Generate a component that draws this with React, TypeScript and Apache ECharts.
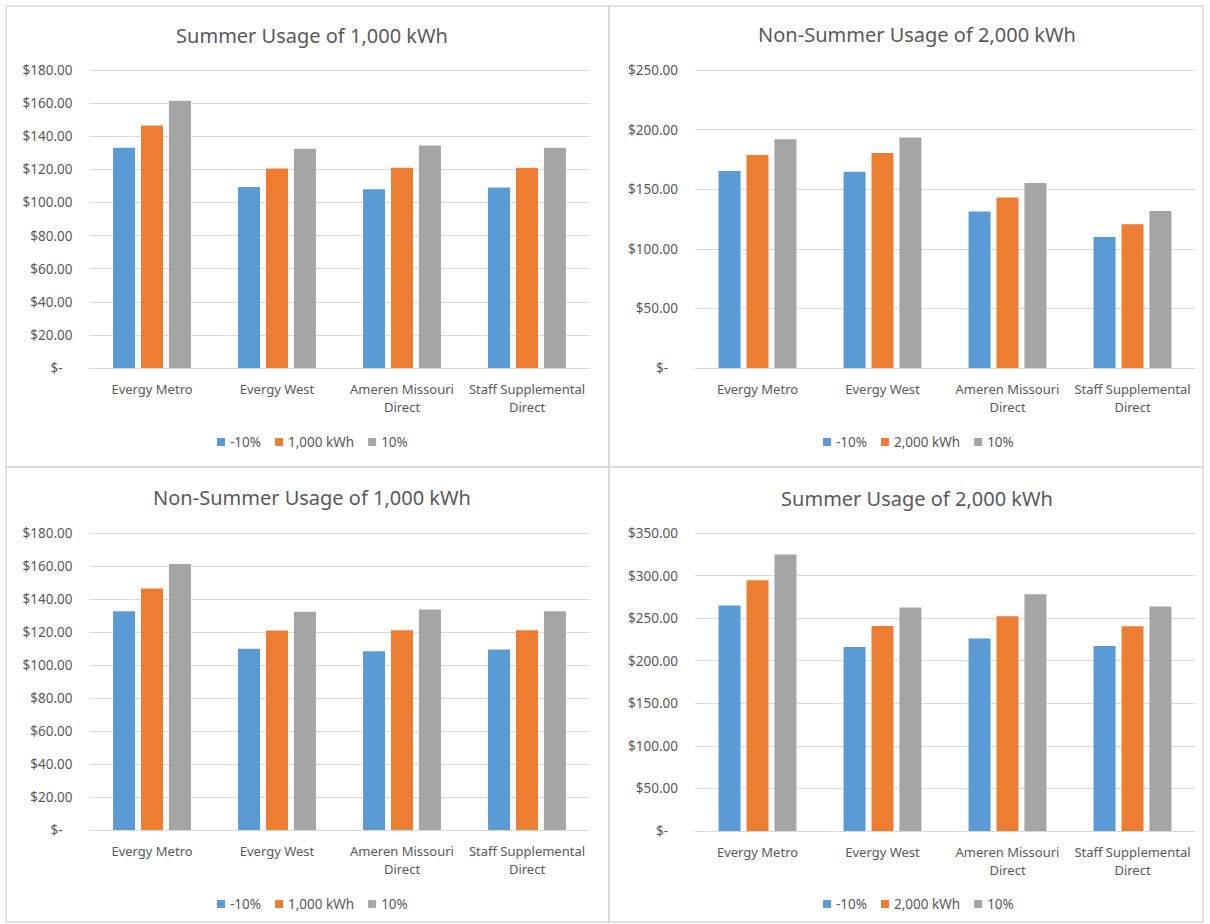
import React, { useEffect, useRef } from "react";
import * as echarts from "echarts";

const categories = ["Evergy Metro", "Evergy West", "Ameren Missouri Direct", "Staff Supplemental Direct"];

const summer1000Minus = [133.0, 109.4, 107.9, 109.0];
const summer1000Base = [146.5, 120.5, 120.9, 120.9];
const summer1000Plus = [161.4, 132.4, 134.4, 133.0];

const nonSummer2000Minus = [165.3, 164.7, 131.3, 109.8];
const nonSummer2000Base = [178.7, 180.4, 143.0, 120.7];
const nonSummer2000Plus = [191.9, 193.3, 155.3, 131.8];

const nonSummer1000Minus = [132.6, 109.8, 108.4, 109.4];
const nonSummer1000Base = [146.3, 120.9, 121.1, 121.1];
const nonSummer1000Plus = [161.2, 132.2, 133.6, 132.6];

const summer2000Minus = [264.8, 216.2, 226.0, 217.3];
const summer2000Base = [294.6, 240.9, 252.3, 240.5];
const summer2000Plus = [324.8, 262.5, 278.2, 263.6];

const titles = [
  "Summer Usage of 1,000 kWh",
  "Non-Summer Usage of 2,000 kWh",
  "Non-Summer Usage of 1,000 kWh",
  "Summer Usage of 2,000 kWh",
];
const seriesNames1000 = ["-10%", "1,000 kWh", "10%"];
const seriesNames2000 = ["-10%", "2,000 kWh", "10%"];
const yMax = [180, 250, 180, 350];
const yInterval = [20, 50, 20, 50];

const COLORS = ["#5B9BD5", "#ED7D31", "#A5A5A5"];
const TEXT = "#595959";
const LINE = "#d9d9d9";
const FONT = "'Noto Sans', 'Liberation Sans', sans-serif";

const panels = [
  { bx: 6, by: 6, bw: 603, bh: 461, gl: 89.5, gt: 70, gh: 298, tx: 307, ty: 20, lx: 212, ly: 430 },
  { bx: 609, by: 6, bw: 594, bh: 461, gl: 695, gt: 70, gh: 298, tx: 912, ty: 19, lx: 818, ly: 430 },
  { bx: 6, by: 467, bw: 603, bh: 455, gl: 89.5, gt: 533, gh: 297, tx: 307, ty: 482, lx: 212, ly: 892 },
  { bx: 609, by: 467, bw: 594, bh: 455, gl: 695, gt: 533, gh: 298, tx: 912, ty: 483, lx: 818, ly: 892 },
];

const panelData = [
  [summer1000Minus, summer1000Base, summer1000Plus],
  [nonSummer2000Minus, nonSummer2000Base, nonSummer2000Plus],
  [nonSummer1000Minus, nonSummer1000Base, nonSummer1000Plus],
  [summer2000Minus, summer2000Base, summer2000Plus],
];
const panelNames = [seriesNames1000, seriesNames2000, seriesNames1000, seriesNames2000];

function fmtMoney(v: number): string {
  if (v === 0) return "{z|$-}";
  return "$" + v.toFixed(2);
}

export default function App() {
  const ref = useRef<HTMLDivElement>(null);
  useEffect(() => {
    if (!ref.current) return;
    const chart = echarts.init(ref.current, undefined, { renderer: "svg" });
    const option: any = {
      animation: false,
      backgroundColor: "#ffffff",
      textStyle: { fontFamily: FONT },
      title: panels.map((p, i) => ({
        text: titles[i],
        left: p.tx,
        top: p.ty,
        textAlign: "center",
        textStyle: { color: TEXT, fontSize: 20, fontWeight: "normal", fontFamily: FONT },
      })),
      legend: panels.map((p, i) => ({
        data: panelNames[i],
        left: p.lx,
        top: p.ly,
        icon: "rect",
        itemWidth: 8,
        itemHeight: 8,
        itemGap: 14,
        selectedMode: false,
        textStyle: { color: TEXT, fontSize: 13.5, fontFamily: FONT },
      })),
      grid: panels.map((p) => ({ left: p.gl, top: p.gt, width: 500, height: p.gh, containLabel: false })),
      xAxis: panels.map((p, i) => ({
        type: "category",
        gridIndex: i,
        data: categories,
        axisLine: { lineStyle: { color: LINE, width: 1 } },
        axisTick: { show: false },
        axisLabel: {
          color: TEXT,
          fontSize: 13,
          fontFamily: FONT,
          margin: 12,
          lineHeight: 18,
          interval: 0,
          formatter: (v: string) => v.replace(" Direct", "\nDirect"),
        },
      })),
      yAxis: panels.map((p, i) => ({
        type: "value",
        gridIndex: i,
        min: 0,
        max: yMax[i],
        interval: yInterval[i],
        axisLine: { show: false },
        axisTick: { show: false },
        splitLine: { lineStyle: { color: LINE, width: 1 } },
        axisLabel: {
          color: TEXT,
          fontSize: 13.5,
          fontFamily: FONT,
          margin: 17,
          formatter: fmtMoney,
          rich: { z: { color: TEXT, fontSize: 13.5, fontFamily: FONT, padding: [0, 10, 0, 0] } },
        },
      })),
      series: panelData.flatMap((group, i) =>
        group.map((vals, j) => ({
          type: "bar",
          name: panelNames[i][j],
          xAxisIndex: i,
          yAxisIndex: i,
          data: vals,
          barWidth: 22,
          barGap: "27%",
          itemStyle: { color: COLORS[j] },
        }))
      ),
      graphic: panels.map((p) => ({
        type: "rect",
        shape: { x: p.bx, y: p.by, width: p.bw, height: p.bh },
        style: { fill: "none", stroke: LINE, lineWidth: 1.5 },
        silent: true,
        z: -1,
      })),
    };
    chart.setOption(option);
    return () => chart.dispose();
  }, []);
  return (
    <div
      ref={ref}
      style={{ position: "absolute", left: 0, top: 0, width: 1210, height: 924, background: "#ffffff" }}
    />
  );
}
